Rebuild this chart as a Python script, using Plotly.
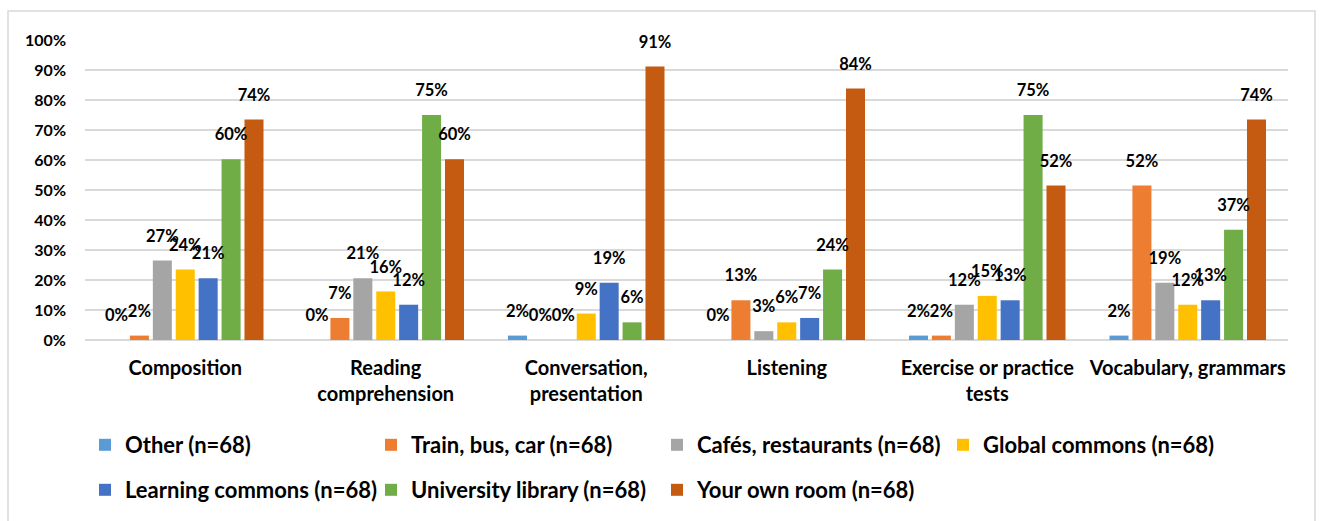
import plotly.graph_objects as go

categories = ["Composition", "Reading<br>comprehension", "Conversation,<br>presentation",
              "Listening", "Exercise or practice<br>tests", "Vocabulary, grammars"]

series_names = ["Other (n=68)", "Train, bus, car (n=68)", "Cafés, restaurants (n=68)",
                "Global commons (n=68)", "Learning commons (n=68)",
                "University library (n=68)", "Your own room (n=68)"]

other      = [0.0, 0.0, 1.47, 0.0, 1.47, 1.47]
train      = [1.47, 7.35, 0.0, 13.24, 1.47, 51.47]
cafes      = [26.47, 20.59, 0.0, 2.94, 11.76, 19.12]
global_c   = [23.53, 16.18, 8.82, 5.88, 14.71, 11.76]
learning   = [20.59, 11.76, 19.12, 7.35, 13.24, 13.24]
library    = [60.29, 75.0, 5.88, 23.53, 75.0, 36.76]
own_room   = [73.53, 60.29, 91.18, 83.82, 51.47, 73.53]

labels_other    = ["0%", "0%", "2%", "0%", "2%", "2%"]
labels_train    = ["2%", "7%", "0%", "13%", "2%", "52%"]
labels_cafes    = ["27%", "21%", "0%", "3%", "12%", "19%"]
labels_global   = ["24%", "16%", "9%", "6%", "15%", "12%"]
labels_learning = ["21%", "12%", "19%", "7%", "13%", "13%"]
labels_library  = ["60%", "75%", "6%", "24%", "75%", "37%"]
labels_room     = ["74%", "60%", "91%", "84%", "52%", "74%"]

colors = ["#5B9BD5", "#ED7D31", "#A5A5A5", "#FFC000", "#4472C4", "#70AD47", "#C55A11"]

values = [other, train, cafes, global_c, learning, library, own_room]
labels = [labels_other, labels_train, labels_cafes, labels_global,
          labels_learning, labels_library, labels_room]

FONT = "Lato"

fig = go.Figure()
for i, (name, vals, col) in enumerate(zip(series_names, values, colors)):
    fig.add_trace(go.Bar(
        x=categories, y=vals, name=name, marker_color=col,
        marker_line_width=0, offsetgroup=str(i), hoverinfo="skip",
        legend="legend" if i < 4 else "legend2",
    ))
for i, (vals, labs) in enumerate(zip(values, labels)):
    fig.add_trace(go.Scatter(
        x=categories, y=vals, text=labs, mode="text+markers",
        marker=dict(size=22, opacity=0, color="rgba(0,0,0,0)"),
        textposition="top center", offsetgroup=str(i), showlegend=False,
        hoverinfo="skip", cliponaxis=False,
        textfont=dict(family=FONT, size=16.5, color="#000000", weight="bold"),
    ))

legend_common = dict(
    orientation="h", xref="container", yref="container",
    xanchor="left", yanchor="middle",
    entrywidth=241, entrywidthmode="pixels",
    font=dict(family=FONT, size=22, color="#000000", weight="bold"),
    itemclick=False, itemdoubleclick=False,
)

fig.update_layout(
    width=1321, height=521,
    margin=dict(l=85, r=33, t=40, b=181),
    paper_bgcolor="white", plot_bgcolor="white",
    barmode="group", bargap=0.2, bargroupgap=0.17,
    scattermode="group", scattergap=0.2,
    font=dict(family=FONT, color="#000000"),
    xaxis=dict(
        tickfont=dict(family=FONT, size=20, color="#000000", weight="bold"),
        showgrid=False, showline=False, ticks="", fixedrange=True,
        ticklabelstandoff=14,
    ),
    yaxis=dict(
        range=[0, 100], dtick=10, ticksuffix="%",
        tickfont=dict(family=FONT, size=16, color="#000000", weight="bold"),
        showgrid=True, gridcolor="#D9D9D9", gridwidth=1.5,
        zeroline=True, zerolinecolor="#D9D9D9", zerolinewidth=1.5,
        ticks="", ticklabelstandoff=18, fixedrange=True,
    ),
    legend=dict(legend_common, x=85 / 1321, y=76 / 521),
    legend2=dict(legend_common, x=85 / 1321, y=31 / 521),
    shapes=[dict(
        type="rect", xref="paper", yref="paper",
        x0=(8 - 85) / 1203, x1=(1315 - 85) / 1203,
        y0=-0.7, y1=(340 - 11) / 300,
        line=dict(color="#D9D9D9", width=1.5), fillcolor="rgba(0,0,0,0)", layer="below",
    )],
)

fig.write_html("out.html")
